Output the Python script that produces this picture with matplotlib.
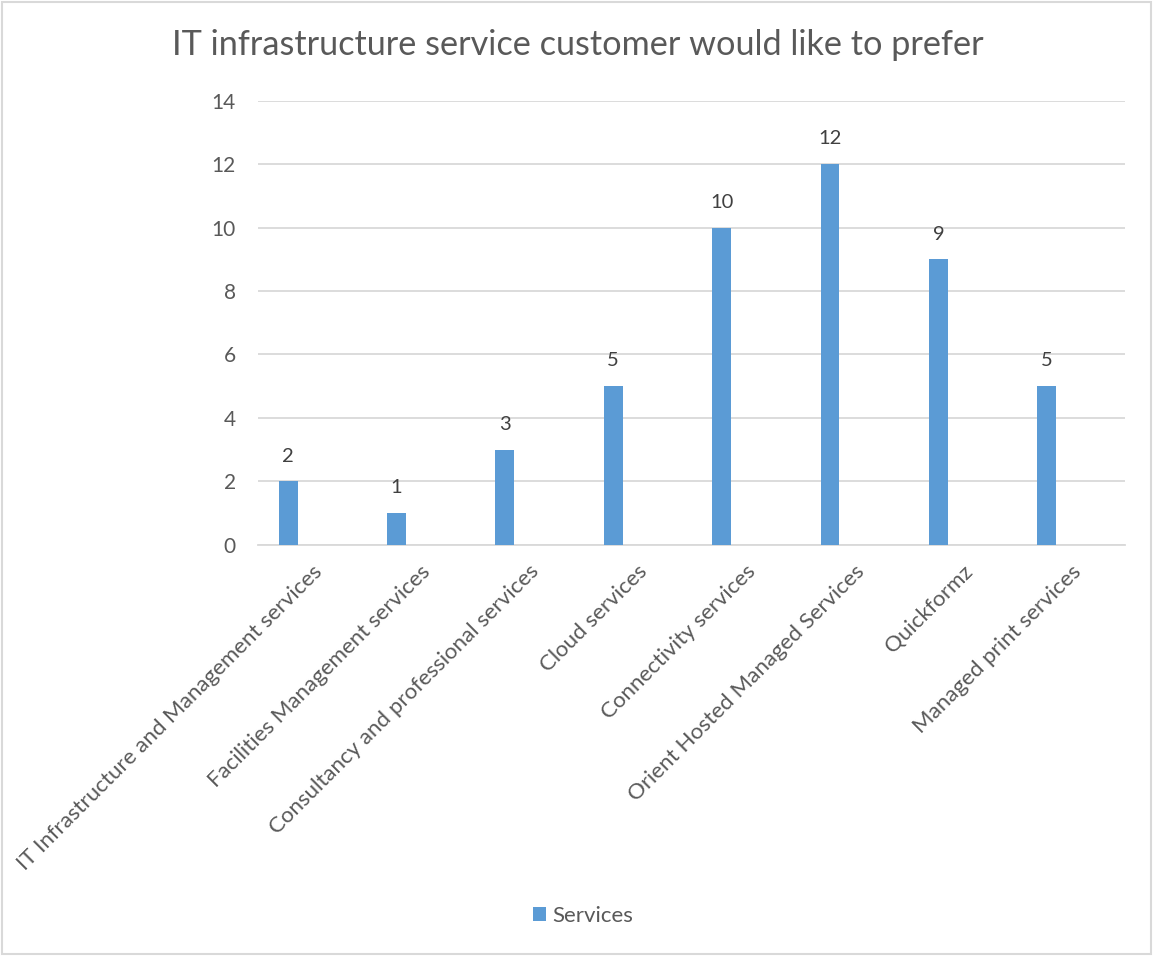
import numpy as np
import matplotlib
matplotlib.use("Agg")
from matplotlib import pyplot as plt
from matplotlib.patches import Rectangle

# Data
categories = ["IT Infrastructure and Management services",
              "Facilities Management services",
              "Consultancy and professional services",
              "Cloud services",
              "Connectivity services",
              "Orient Hosted Managed Services",
              "Quickformz",
              "Managed print services"]
services = [2, 1, 3, 5, 10, 12, 9, 5]

plt.rcParams['font.family'] = ['Lato', 'DejaVu Sans']
textcol = '#595959'
barcol = '#5b9bd5'
gridcol = '#d9d9d9'

fig = plt.figure(figsize=(11.53, 9.56), dpi=100)
ax = fig.add_axes([258/1153, 1-544.7/956, (1125-258)/1153, (544.7-100.7)/956])

x = np.arange(len(categories))
bars = ax.bar(x - 0.222, services, width=0.175, color=barcol, label='Services', zorder=3)
for b, v in zip(bars, services):
    ax.annotate(str(v), (b.get_x() + b.get_width()/2, v), xytext=(0, 12),
                textcoords='offset points', ha='center', va='bottom',
                fontsize=14.5, color='#404040')

ax.set_xlim(-0.5, len(categories) - 0.5)
ax.set_ylim(0, 14)
ax.set_yticks(range(0, 15, 2))
ax.yaxis.grid(True, color=gridcol, linewidth=1.3, zorder=0)
ax.set_xticks(x)
ax.set_xticklabels(categories, rotation=45, ha='right', rotation_mode='anchor', fontsize=16)
ax.tick_params(axis='both', length=0, labelcolor=textcol)
ax.tick_params(axis='y', pad=16, labelsize=15)
ax.tick_params(axis='x', pad=12)
for s in ['top', 'right', 'left']:
    ax.spines[s].set_visible(False)
ax.spines['bottom'].set_color(gridcol)
ax.spines['bottom'].set_linewidth(1.3)

fig.text(578/1153, 1-45/956, 'IT infrastructure service customer would like to prefer',
         ha='center', va='center', fontsize=24.7, color=textcol)

fig.legend(handles=[bars], labels=['Services'], loc='center', bbox_to_anchor=(583/1153, 1-916/956),
           frameon=False, fontsize=16, handlelength=0.6, handleheight=0.6, handletextpad=0.3,
           labelcolor=textcol)

fig.patches.append(Rectangle((0.002, 0.002), 0.996, 0.996, transform=fig.transFigure,
                             fill=False, edgecolor=gridcol, linewidth=1.5))

fig.savefig('out.png', dpi=100, facecolor='white')
